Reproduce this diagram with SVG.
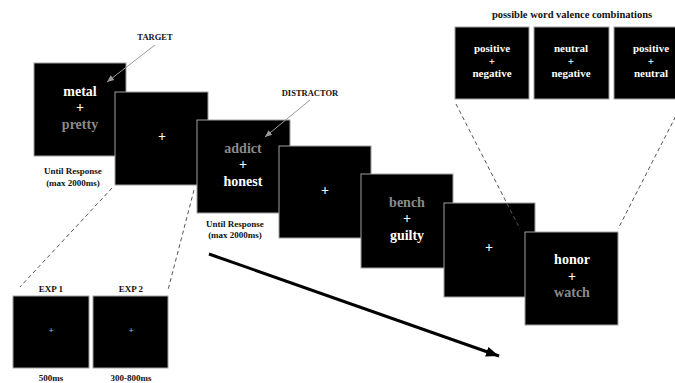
<svg xmlns="http://www.w3.org/2000/svg" width="675" height="383" viewBox="0 0 675 383">
<style>
.scr{fill:#000;stroke:#a0a0a0;stroke-width:1}
text{font-family:"Liberation Serif","Times New Roman",serif;font-weight:bold;text-anchor:middle}
.w{fill:#fff;font-size:14px}
.g{fill:#8a8a8a;font-size:14px}
.t{fill:#fff;font-size:11px}
.lab{fill:#111;font-size:9px}
.sp{fill:#bbb;font-size:9px}
.dash{stroke:#555;stroke-width:1;stroke-dasharray:4,3;fill:none}
.ptr{stroke:#9a9a9a;stroke-width:1;fill:none}
</style>
<defs>
<marker id="ah" markerWidth="8" markerHeight="8" refX="7" refY="4" orient="auto" markerUnits="userSpaceOnUse">
<path d="M0,1 L7,4 L0,7 z" fill="#9a9a9a"/>
</marker>
<marker id="bh" markerWidth="14" markerHeight="12" refX="13" refY="6" orient="auto" markerUnits="userSpaceOnUse">
<path d="M0,1 L13,6 L0,11 z" fill="#000"/>
</marker>
</defs>

<text x="572" y="18" class="lab" style="font-size:10.5px">possible word valence combinations</text>

<g id="combo1"><rect class="scr" x="455" y="27" width="74" height="72"/>
<text class="t" x="492" y="52">positive</text><text class="t" x="492" y="65">+</text><text class="t" x="492" y="77">negative</text></g>
<g id="combo2"><rect class="scr" x="534" y="27" width="75" height="72"/>
<text class="t" x="571" y="52">neutral</text><text class="t" x="571" y="65">+</text><text class="t" x="571" y="77">negative</text></g>
<g id="combo3"><rect class="scr" x="614" y="27" width="75" height="72"/>
<text class="t" x="651" y="52">positive</text><text class="t" x="651" y="65">+</text><text class="t" x="651" y="77">neutral</text></g>

<g id="s1"><rect class="scr" x="34" y="63" width="92" height="93"/>
<text class="w" x="80" y="96">metal</text><text class="w" x="80" y="112">+</text><text class="g" x="80" y="129">pretty</text></g>
<g id="s2"><rect class="scr" x="115" y="92" width="93" height="93"/>
<text class="w" x="162" y="141">+</text></g>
<g id="s3"><rect class="scr" x="197" y="120" width="93" height="93"/>
<text class="g" x="243" y="153">addict</text><text class="w" x="243" y="169">+</text><text class="w" x="243" y="186">honest</text></g>
<g id="s4"><rect class="scr" x="279" y="146" width="92" height="92"/>
<text class="w" x="325" y="195">+</text></g>
<g id="s5"><rect class="scr" x="361" y="174" width="92" height="94"/>
<text class="g" x="407" y="207">bench</text><text class="w" x="407" y="223">+</text><text class="w" x="407" y="240">guilty</text></g>
<g id="s6"><rect class="scr" x="444" y="203" width="91" height="94"/>
<text class="w" x="489" y="252">+</text></g>
<g id="s7"><rect class="scr" x="525" y="232" width="93" height="93"/>
<text class="w" x="572" y="264">honor</text><text class="w" x="572" y="281">+</text><text class="g" x="572" y="297">watch</text></g>

<g id="exp1"><text class="lab" x="51" y="292">EXP 1</text><rect class="scr" x="13" y="296" width="76" height="72"/>
<text class="sp" x="51" y="333">+</text><text class="lab" x="51" y="381">500ms</text></g>
<g id="exp2"><text class="lab" x="131" y="292">EXP 2</text><rect class="scr" x="93" y="296" width="75" height="72"/>
<text class="sp" x="131" y="333">+</text><text class="lab" x="131" y="381">300-800ms</text></g>

<g id="labels">
<text class="lab" x="155" y="40" style="font-size:8.5px">TARGET</text>
<text class="lab" x="310" y="96" style="font-size:8.5px">DISTRACTOR</text>
<text class="lab" x="73" y="174">Until Response</text>
<text class="lab" x="73" y="186">(max 2000ms)</text>
<text class="lab" x="235" y="227">Until Response</text>
<text class="lab" x="235" y="238">(max 2000ms)</text>
</g>

<g id="connectors">
<line class="ptr" x1="155" y1="45" x2="107" y2="82" marker-end="url(#ah)"/>
<line class="ptr" x1="310" y1="100" x2="265" y2="137" marker-end="url(#ah)"/>
<line class="dash" x1="112" y1="188" x2="20" y2="287"/>
<line class="dash" x1="194" y1="190" x2="168" y2="290"/>
<line class="dash" x1="456" y1="104" x2="520" y2="229"/>
<line class="dash" x1="682" y1="104" x2="618" y2="229"/>
<line x1="209" y1="254" x2="499" y2="356" stroke="#000" stroke-width="3" marker-end="url(#bh)"/>
</g>
</svg>
